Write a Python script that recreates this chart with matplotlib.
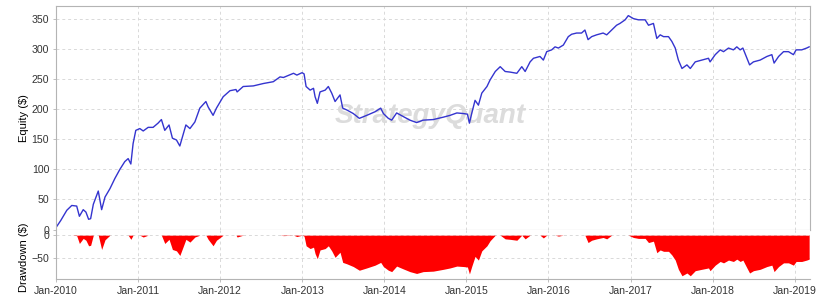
import numpy as np
import pandas as pd
import matplotlib
matplotlib.use("Agg")
import matplotlib.pyplot as plt
import matplotlib.dates as mdates

# equity curve
dates = [
    "2010-01-04", "2010-01-22", "2010-02-18", "2010-03-12", "2010-04-03", "2010-04-15",
    "2010-05-02", "2010-05-14", "2010-05-26", "2010-06-04", "2010-06-16", "2010-07-08",
    "2010-07-23", "2010-08-07", "2010-08-29", "2010-09-20", "2010-10-12", "2010-11-03",
    "2010-11-18", "2010-11-30", "2010-12-10", "2010-12-22", "2011-01-09", "2011-01-24",
    "2011-02-15", "2011-03-09", "2011-03-31", "2011-04-15", "2011-04-30", "2011-05-19",
    "2011-06-03", "2011-06-21", "2011-07-06", "2011-07-20", "2011-08-02", "2011-08-20",
    "2011-09-11", "2011-10-03", "2011-10-30", "2011-11-09", "2011-12-01", "2011-12-16",
    "2012-01-15", "2012-02-14", "2012-03-12", "2012-03-17", "2012-04-13", "2012-05-28",
    "2012-07-12", "2012-08-11", "2012-08-25", "2012-09-24", "2012-10-09", "2012-11-23",
    "2012-12-08", "2012-12-31", "2013-01-09", "2013-01-18", "2013-02-05", "2013-02-20",
    "2013-02-27", "2013-03-09", "2013-03-21", "2013-04-13", "2013-04-27", "2013-05-12",
    "2013-05-27", "2013-06-18", "2013-06-30", "2013-07-18", "2013-08-16", "2013-09-12",
    "2013-10-15", "2013-11-21", "2013-12-16", "2013-12-28", "2014-01-19", "2014-02-03",
    "2014-02-25", "2014-03-26", "2014-04-25", "2014-05-25", "2014-06-23", "2014-08-07",
    "2014-09-21", "2014-10-21", "2014-11-20", "2014-12-19", "2015-01-06", "2015-01-15",
    "2015-01-25", "2015-02-09", "2015-02-24", "2015-03-11", "2015-04-03", "2015-04-17",
    "2015-05-10", "2015-06-01", "2015-06-23", "2015-07-15", "2015-08-14", "2015-09-05",
    "2015-09-20", "2015-10-12", "2015-10-27", "2015-11-25", "2015-12-10", "2015-12-25",
    "2016-01-16", "2016-01-31", "2016-02-15", "2016-03-08", "2016-03-30", "2016-04-14",
    "2016-05-06", "2016-05-28", "2016-06-12", "2016-06-26", "2016-07-12", "2016-08-03",
    "2016-09-01", "2016-09-17", "2016-10-09", "2016-10-31", "2016-11-15", "2016-12-08",
    "2016-12-22", "2017-01-14", "2017-02-05", "2017-03-07", "2017-03-22", "2017-04-13",
    "2017-04-28", "2017-05-13", "2017-05-28", "2017-06-19", "2017-07-04", "2017-07-19",
    "2017-08-02", "2017-08-18", "2017-09-09", "2017-09-24", "2017-10-16", "2017-11-14",
    "2017-12-14", "2017-12-21", "2018-01-13", "2018-02-04", "2018-02-19", "2018-03-13",
    "2018-04-04", "2018-04-19", "2018-05-04", "2018-05-16", "2018-06-03", "2018-06-15",
    "2018-07-02", "2018-08-01", "2018-08-31", "2018-09-22", "2018-10-02", "2018-10-22",
    "2018-11-13", "2018-12-05", "2018-12-27", "2019-01-08", "2019-02-02", "2019-02-24",
    "2019-03-07",
]
equity = [
    5, 15, 32, 40, 39, 22,
    33, 29, 17, 18, 42, 64,
    33, 54, 68, 85, 100, 113,
    118, 109, 143, 165, 168, 164,
    170, 170, 177, 183, 165, 174,
    152, 149, 139, 157, 174, 168,
    179, 202, 213, 204, 190, 202,
    221, 231, 233, 229, 238, 239,
    243, 245, 246, 254, 253, 260,
    257, 261, 259, 238, 232, 235,
    221, 210, 229, 232, 238, 227,
    213, 224, 202, 199, 193, 185,
    190, 196, 202, 193, 185, 182,
    194, 188, 182, 178, 182, 183,
    187, 190, 194, 193, 192, 177,
    193, 215, 207, 227, 238, 249,
    263, 271, 263, 262, 260, 271,
    263, 279, 285, 288, 282, 296,
    299, 304, 302, 307, 321, 325,
    327, 327, 332, 316, 321, 324,
    327, 324, 332, 340, 343, 349,
    356, 351, 349, 349, 340, 343,
    318, 324, 321, 321, 313, 302,
    282, 268, 274, 268, 279, 282,
    285, 279, 291, 299, 296, 302,
    299, 304, 299, 302, 285, 274,
    279, 282, 288, 291, 277, 288,
    296, 296, 291, 299, 299, 302,
    304,
]
year_ticks = ["2010", "2011", "2012", "2013", "2014", "2015", "2016", "2017", "2018", "2019"]

df = pd.DataFrame({"date": pd.to_datetime(dates), "equity": equity})
df["drawdown"] = df["equity"] - df["equity"].cummax()

plt.rcParams["font.family"] = ["Liberation Sans", "DejaVu Sans"]
plt.rcParams["font.size"] = 7.6

grid_col = "#d9d9d9"
spine_col = "#b4b4b4"

fig = plt.figure(figsize=(8.18, 3.0), dpi=100)
ax1 = fig.add_axes([0.0685, 0.235, 0.9215, 0.745])
ax2 = fig.add_axes([0.0685, 0.07, 0.9215, 0.163], sharex=ax1)

xmin = pd.Timestamp("2010-01-01")
xmax = pd.Timestamp("2019-03-10")

# Equity
ax1.plot(df["date"], df["equity"], color="#3434cf", lw=1.0)
ax1.set_ylim(0, 372)
ax1.set_yticks(np.arange(0, 351, 50))
ax1.set_ylabel("Equity ($)", fontsize=8)
ax1.yaxis.set_label_coords(-0.036, 0.5)
ax1.text(0.496, 0.51, "StrategyQuant", transform=ax1.transAxes, ha="center", va="center",
         fontsize=20, fontweight="bold", style="italic", color="#dcdcdc", zorder=0)
for s in ax1.spines.values():
    s.set_color(spine_col)
ax1.tick_params(axis="x", labelbottom=False, length=0)

# Drawdown
ax2.fill_between(df["date"], df["drawdown"], 0, color="#ff0000", lw=0)
ax2.set_ylim(-95, 11)
ax2.set_yticks([-50, 0])
ax2.set_ylabel("Drawdown ($)", fontsize=8)
ax2.yaxis.set_label_coords(-0.036, 0.45)
for s in ["top", "right"]:
    ax2.spines[s].set_visible(False)
for s in ["left", "bottom"]:
    ax2.spines[s].set_color(spine_col)

tick_dates = pd.to_datetime([y + "-01-01" for y in year_ticks])
ax2.set_xticks(tick_dates)
ax2.xaxis.set_major_formatter(mdates.DateFormatter("Jan-%Y"))
ax2.set_xlim(xmin, xmax)

for ax in (ax1, ax2):
    ax.grid(True, color=grid_col, ls=(0, (3, 3)), lw=0.7)
    ax.set_axisbelow(True)
    ax.tick_params(colors="#333333", length=2, width=0.6, pad=3)
    ax.tick_params(axis="both", color=spine_col)

fig.savefig("out.png", dpi=100, facecolor="white")
